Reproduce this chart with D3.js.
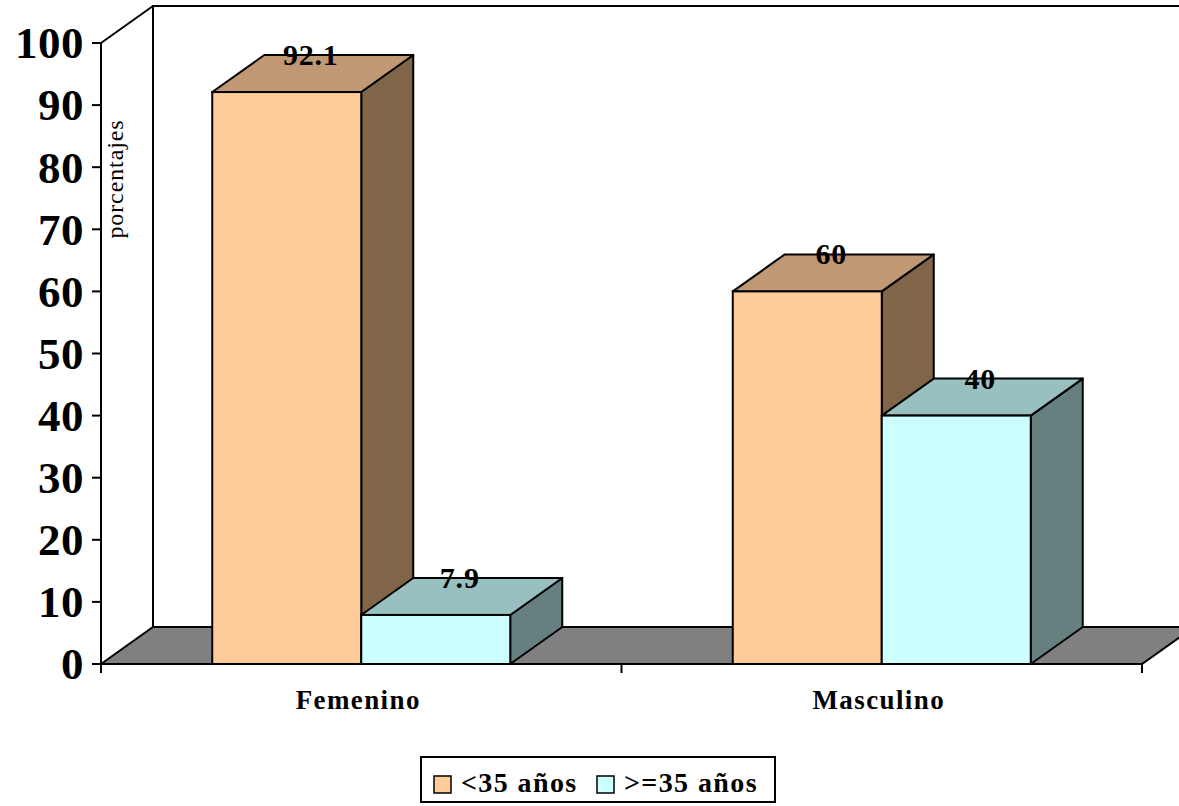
<!DOCTYPE html>
<html>
<head>
<meta charset="utf-8">
<script src="https://cdn.jsdelivr.net/npm/d3@7"></script>
<style>
  html, body { margin: 0; padding: 0; background: #fff; }
  svg { display: block; }
  text { font-family: "Liberation Serif", "Times New Roman", serif; }
</style>
</head>
<body>
<svg id="chart" width="1179" height="806"></svg>
<script>
// Chart data
const categories = ["Femenino", "Masculino"];
const seriesNames = ["<35 años", ">=35 años"];
const valuesUnder35 = [92.1, 60];
const valuesOver35 = [7.9, 40];
const yTicks = [0, 10, 20, 30, 40, 50, 60, 70, 80, 90, 100];
const yTitle = "porcentajes";

const seriesValues = [valuesUnder35, valuesOver35];

// Face colours per series: front, top, side
const palette = [
  { front: "#FFCC99", top: "#C09873", side: "#806548" },
  { front: "#CCFFFF", top: "#99C0C0", side: "#668080" }
];

const W = 1179;
const plotLeft = 101, plotRight = 1142, plotBottom = 664, plotTop = 43;
const depthX = 52, depthY = -37;

const svg = d3.select("#chart");

const y = d3.scaleLinear().domain([0, 100]).range([plotBottom, plotTop]);
const x = d3.scaleBand().domain(categories).range([plotLeft, plotRight])
  .paddingInner(0.4275).paddingOuter(0.21375);
const xs = d3.scaleBand().domain(d3.range(seriesNames.length)).range([0, x.bandwidth()]);

const line = d3.line();
const stroke = "#000", sw = 2;

// Back wall outline
svg.append("path")
  .attr("d", line([[plotLeft + depthX, y(0) + depthY], [plotLeft + depthX, y(100) + depthY], [W + 5, y(100) + depthY]]))
  .attr("fill", "none").attr("stroke", stroke).attr("stroke-width", sw);
// Side wall top edge
svg.append("path")
  .attr("d", line([[plotLeft, y(100)], [plotLeft + depthX, y(100) + depthY]]))
  .attr("fill", "none").attr("stroke", stroke).attr("stroke-width", sw);

// Floor
svg.append("path")
  .attr("d", line([[plotLeft, y(0)], [plotLeft + depthX, y(0) + depthY], [plotRight + depthX, y(0) + depthY], [plotRight, y(0)]]) + "Z")
  .attr("fill", "#808080").attr("stroke", stroke).attr("stroke-width", sw);

// Y axis
svg.append("line").attr("x1", plotLeft).attr("x2", plotLeft).attr("y1", y(0) + 9).attr("y2", y(100))
  .attr("stroke", stroke).attr("stroke-width", sw);
svg.selectAll(".ytick").data(yTicks).enter().append("line")
  .attr("x1", plotLeft - 9).attr("x2", plotLeft).attr("y1", d => y(d)).attr("y2", d => y(d))
  .attr("stroke", stroke).attr("stroke-width", sw);
svg.selectAll(".ylab").data(yTicks).enter().append("text")
  .attr("x", 84).attr("y", d => y(d)).attr("dy", "0.34em")
  .attr("text-anchor", "end").attr("font-size", 45).attr("font-weight", "bold")
  .attr("letter-spacing", 0.5)
  .text(d => d);

// Y axis title
svg.append("text")
  .attr("transform", "translate(123,179) rotate(-90)")
  .attr("text-anchor", "middle").attr("font-size", 24).attr("letter-spacing", 0.9)
  .text(yTitle);

// X axis baseline and ticks
svg.append("line").attr("x1", plotLeft).attr("x2", plotRight).attr("y1", y(0)).attr("y2", y(0))
  .attr("stroke", stroke).attr("stroke-width", sw);
const xTickPos = [plotLeft, ...categories.slice(1).map(c => x(c) - x.step() * x.paddingInner() / 2), plotRight];
svg.selectAll(".xtick").data(xTickPos).enter().append("line")
  .attr("x1", d => d).attr("x2", d => d).attr("y1", y(0)).attr("y2", y(0) + 9)
  .attr("stroke", stroke).attr("stroke-width", sw);

svg.selectAll(".xlab").data(categories).enter().append("text")
  .attr("x", d => x(d) + x.bandwidth() / 2 - 3).attr("y", 709)
  .attr("text-anchor", "middle").attr("font-size", 27).attr("font-weight", "bold")
  .attr("letter-spacing", 1.4)
  .text(d => d);

// 3D bars
categories.forEach((cat, ci) => {
  seriesValues.forEach((vals, si) => {
    const v = vals[ci];
    const x0 = x(cat) + xs(si), x1 = x0 + xs.bandwidth();
    const y0 = y(0), y1 = y(v);
    const c = palette[si];
    const g = svg.append("g");
    // side face
    g.append("path")
      .attr("d", line([[x1, y0], [x1 + depthX, y0 + depthY], [x1 + depthX, y1 + depthY], [x1, y1]]) + "Z")
      .attr("fill", c.side).attr("stroke", stroke).attr("stroke-width", sw).attr("stroke-linejoin", "round");
    // top face
    g.append("path")
      .attr("d", line([[x0, y1], [x0 + depthX, y1 + depthY], [x1 + depthX, y1 + depthY], [x1, y1]]) + "Z")
      .attr("fill", c.top).attr("stroke", stroke).attr("stroke-width", sw).attr("stroke-linejoin", "round");
    // front face
    g.append("rect")
      .attr("x", x0).attr("y", y1).attr("width", x1 - x0).attr("height", y0 - y1)
      .attr("fill", c.front).attr("stroke", stroke).attr("stroke-width", sw);
  });
});

// Value labels
categories.forEach((cat, ci) => {
  seriesValues.forEach((vals, si) => {
    const v = vals[ci];
    const cx = x(cat) + xs(si) + xs.bandwidth() / 2 + depthX / 2 - 2;
    svg.append("text")
      .attr("x", cx).attr("y", y(v) - 27)
      .attr("text-anchor", "middle").attr("font-size", 30).attr("font-weight", "bold")
      .attr("letter-spacing", 0.8)
      .text(v);
  });
});

// Legend
const legend = svg.append("g");
legend.append("rect").attr("x", 421).attr("y", 757).attr("width", 354).attr("height", 45)
  .attr("fill", "#fff").attr("stroke", stroke).attr("stroke-width", sw);
const legendItems = [
  { x: 434, name: seriesNames[0], color: palette[0].front },
  { x: 597, name: seriesNames[1], color: palette[1].front }
];
legendItems.forEach(it => {
  legend.append("rect").attr("x", it.x).attr("y", 776).attr("width", 17).attr("height", 17)
    .attr("fill", it.color).attr("stroke", stroke).attr("stroke-width", 1.5);
  legend.append("text").attr("x", it.x + 27).attr("y", 792)
    .attr("font-size", 28).attr("font-weight", "bold").attr("letter-spacing", 1.4)
    .text(it.name);
});
</script>
</body>
</html>
